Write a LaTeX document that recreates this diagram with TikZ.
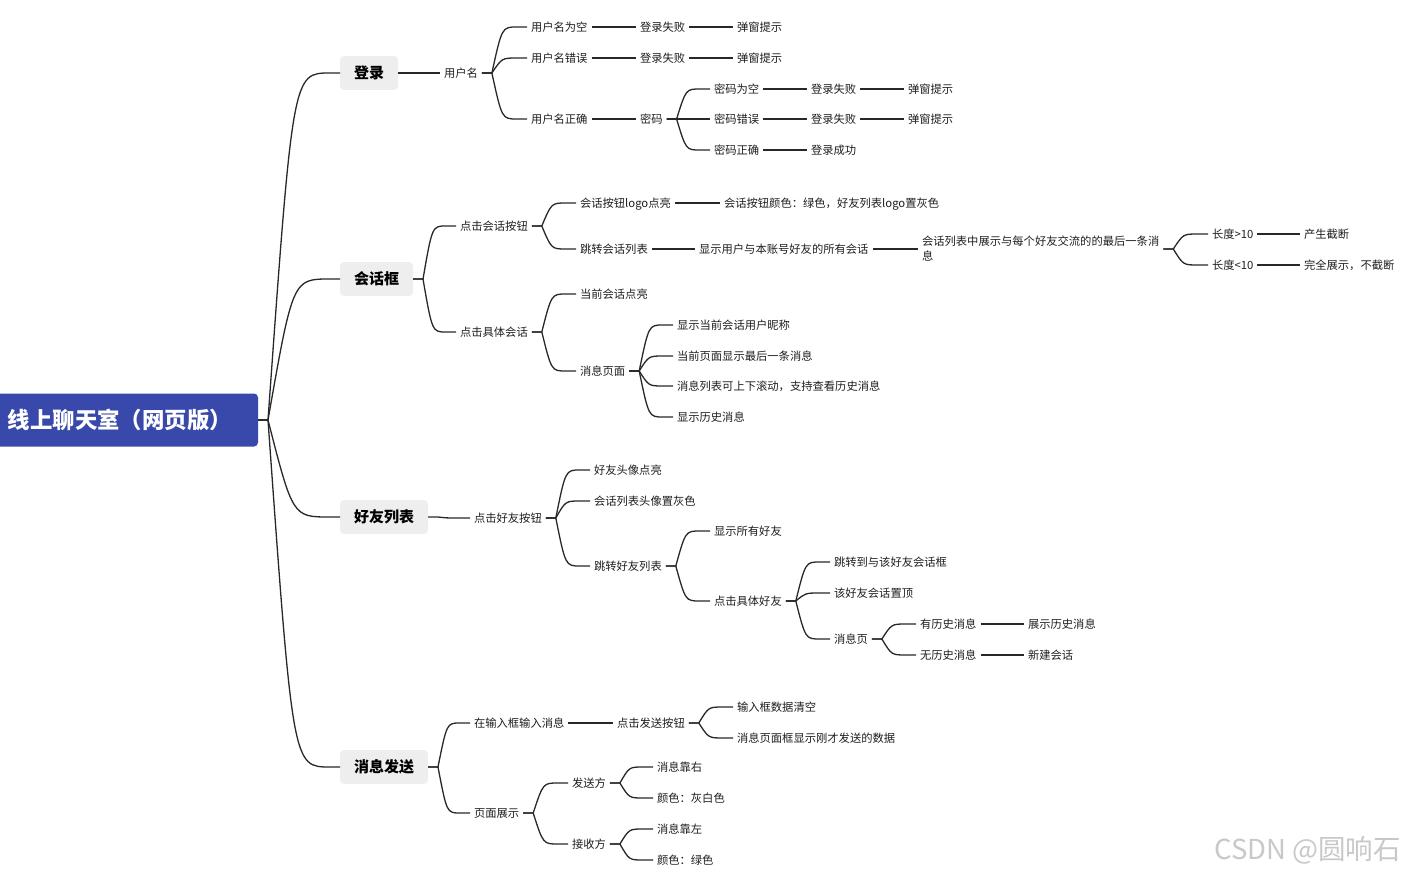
\documentclass[tikz,border=0pt]{standalone}
\usepackage{fontspec}
\setmainfont{Noto Sans CJK SC}
\usetikzlibrary{calc}
\definecolor{rootblue}{RGB}{57,73,171}
\definecolor{boxgray}{RGB}{238,238,238}
\definecolor{linegray}{RGB}{40,40,40}
\definecolor{txt}{RGB}{30,30,30}
\definecolor{wm}{RGB}{200,200,200}
\tikzset{
  lbl/.style={anchor=west, xshift=-4pt, inner sep=0pt, outer sep=4pt, text=txt,
    font=\fontsize{11.3}{15}\selectfont, text height=9.5pt, text depth=1pt},
  lvlbox/.style={anchor=west, fill=boxgray, rounded corners=4pt, inner xsep=14pt,
    inner ysep=0pt, minimum height=34pt, outer sep=0pt, text=black,
    font=\bfseries\fontsize{15}{18}\selectfont},
  rootbox/.style={anchor=west, fill=rootblue, rounded corners=4pt, inner xsep=14pt,
    inner ysep=0pt, minimum height=53pt, text width=236pt, align=left, outer sep=0pt,
    text=white, font=\bfseries\fontsize{22.4}{26}\selectfont},
  conn/.style={draw=linegray, line width=1.3pt},
}
\newcommand\mmedge[2]{%
  \path (#1.east) ++(10,0) coordinate (mmj);
  \path (#2.west) ++(-10,0) coordinate (mmc);
  \path ($(mmj)!0.4!(mmc)$) coordinate (mmk);
  \draw[conn] (#1.east) -- (mmj) .. controls (mmk |- mmc) .. (mmc) -- (#2.west);
}
\begin{document}
\begin{tikzpicture}[x=1pt,y=-1pt]
\useasboundingbox (0,0) rectangle (1401,875);
% root
\node[rootbox] (root) at (-6,420) {线上聊天室（网页版）};
% level 1
\node[lvlbox] (l1) at (340,73) {登录};
\node[lvlbox] (l2) at (340,279) {会话框};
\node[lvlbox] (l3) at (340,517) {好友列表};
\node[lvlbox] (l4) at (340,767) {消息发送};
% 登录
\node[lbl] (u) at (444,73) {用户名};
\node[lbl] (u1) at (531,27) {用户名为空};
\node[lbl] (u1a) at (640,27) {登录失败};
\node[lbl] (u1b) at (737,27) {弹窗提示};
\node[lbl] (u2) at (531,58) {用户名错误};
\node[lbl] (u2a) at (640,58) {登录失败};
\node[lbl] (u2b) at (737,58) {弹窗提示};
\node[lbl] (u3) at (531,119) {用户名正确};
\node[lbl] (p) at (640,119) {密码};
\node[lbl] (p1) at (714,89) {密码为空};
\node[lbl] (p1a) at (811,89) {登录失败};
\node[lbl] (p1b) at (908,89) {弹窗提示};
\node[lbl] (p2) at (714,119) {密码错误};
\node[lbl] (p2a) at (811,119) {登录失败};
\node[lbl] (p2b) at (908,119) {弹窗提示};
\node[lbl] (p3) at (714,150) {密码正确};
\node[lbl] (p3a) at (811,150) {登录成功};
% 会话框
\node[lbl] (s1) at (460,226) {点击会话按钮};
\node[lbl] (s11) at (580,203) {会话按钮logo点亮};
\node[lbl] (s11a) at (724,203) {会话按钮颜色：绿色，好友列表logo置灰色};
\node[lbl] (s12) at (580,249) {跳转会话列表};
\node[lbl] (s12a) at (699,249) {显示用户与本账号好友的所有会话};
\node[lbl, align=left, text height=24.5pt] (s12b) at (922,249) {会话列表中展示与每个好友交流的的最后一条消\\息};
\node[lbl] (s12b1) at (1212,234) {长度>10};
\node[lbl] (s12b1a) at (1304,234) {产生截断};
\node[lbl] (s12b2) at (1212,265) {长度<10};
\node[lbl] (s12b2a) at (1304,265) {完全展示，不截断};
\node[lbl] (s2) at (460,332) {点击具体会话};
\node[lbl] (s21) at (580,294) {当前会话点亮};
\node[lbl] (s22) at (580,371) {消息页面};
\node[lbl] (s221) at (677,325) {显示当前会话用户昵称};
\node[lbl] (s222) at (677,356) {当前页面显示最后一条消息};
\node[lbl] (s223) at (677,386) {消息列表可上下滚动，支持查看历史消息};
\node[lbl] (s224) at (677,417) {显示历史消息};
% 好友列表
\node[lbl] (f) at (474,518) {点击好友按钮};
\node[lbl] (f1) at (594,470) {好友头像点亮};
\node[lbl] (f2) at (594,501) {会话列表头像置灰色};
\node[lbl] (f3) at (594,566) {跳转好友列表};
\node[lbl] (f31) at (714,531) {显示所有好友};
\node[lbl] (f32) at (714,601) {点击具体好友};
\node[lbl] (f321) at (834,562) {跳转到与该好友会话框};
\node[lbl] (f322) at (834,593) {该好友会话置顶};
\node[lbl] (f323) at (834,639) {消息页};
\node[lbl] (f3231) at (920,624) {有历史消息};
\node[lbl] (f3231a) at (1028,624) {展示历史消息};
\node[lbl] (f3232) at (920,655) {无历史消息};
\node[lbl] (f3232a) at (1028,655) {新建会话};
% 消息发送
\node[lbl] (m1) at (474,723) {在输入框输入消息};
\node[lbl] (m1a) at (617,723) {点击发送按钮};
\node[lbl] (m1a1) at (737,707) {输入框数据清空};
\node[lbl] (m1a2) at (737,738) {消息页面框显示刚才发送的数据};
\node[lbl] (m2) at (474,813) {页面展示};
\node[lbl] (m21) at (572,783) {发送方};
\node[lbl] (m211) at (657,767) {消息靠右};
\node[lbl] (m212) at (657,798) {颜色：灰白色};
\node[lbl] (m22) at (572,844) {接收方};
\node[lbl] (m221) at (657,829) {消息靠左};
\node[lbl] (m222) at (657,860) {颜色：绿色};
% watermark
\node[anchor=west, inner sep=0pt, text=wm, font=\fontsize{27.5}{31}\selectfont] (wmk) at (1214,850) {CSDN @圆响石};
% connectors
\foreach \a/\b in {root/l1,root/l2,root/l3,root/l4,
  l1/u,u/u1,u/u2,u/u3,u1/u1a,u1a/u1b,u2/u2a,u2a/u2b,u3/p,
  p/p1,p/p2,p/p3,p1/p1a,p1a/p1b,p2/p2a,p2a/p2b,p3/p3a,
  l2/s1,l2/s2,s1/s11,s1/s12,s11/s11a,s12/s12a,s12a/s12b,
  s12b/s12b1,s12b/s12b2,s12b1/s12b1a,s12b2/s12b2a,
  s2/s21,s2/s22,s22/s221,s22/s222,s22/s223,s22/s224,
  l3/f,f/f1,f/f2,f/f3,f3/f31,f3/f32,f32/f321,f32/f322,f32/f323,
  f323/f3231,f323/f3232,f3231/f3231a,f3232/f3232a,
  l4/m1,l4/m2,m1/m1a,m1a/m1a1,m1a/m1a2,m2/m21,m2/m22,
  m21/m211,m21/m212,m22/m221,m22/m222}
  {\mmedge{\a}{\b}}
\end{tikzpicture}
\end{document}
